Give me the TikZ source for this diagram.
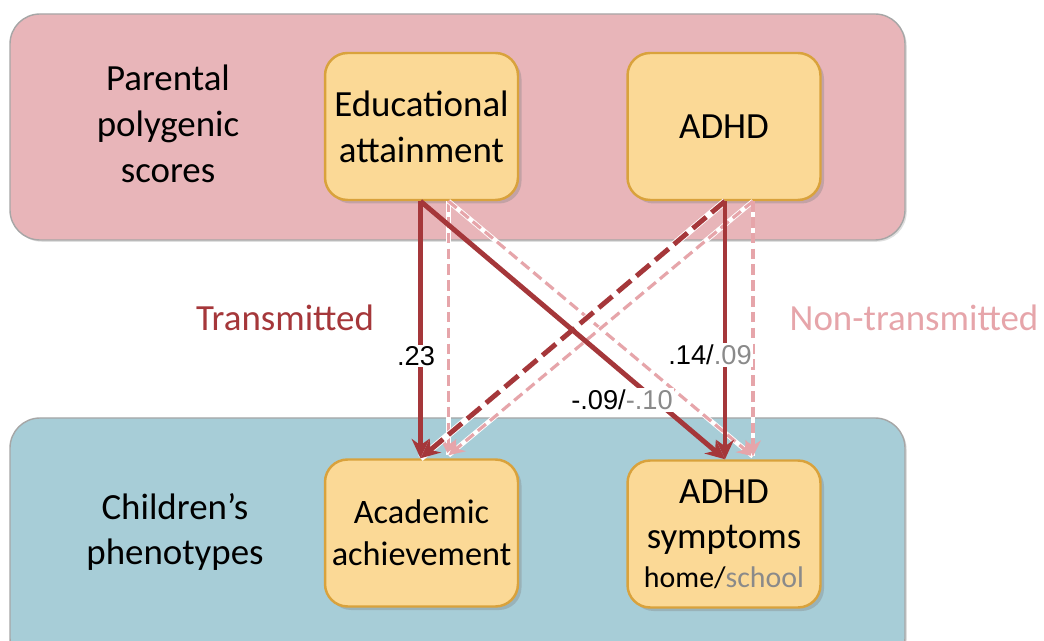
\documentclass[tikz,border=0pt]{standalone}
\usepackage{fontspec}
\setmainfont{Carlito}
\newfontfamily\numfont{Liberation Sans}
\usepackage{xcolor}
\usetikzlibrary{arrows.meta, positioning, shadows}

\definecolor{parentbg}{HTML}{E8B5B9}
\definecolor{childbg}{HTML}{A7CDD7}
\definecolor{boxfill}{HTML}{FBD996}
\definecolor{boxedge}{HTML}{D9A23C}
\definecolor{transred}{HTML}{A5373A}
\definecolor{nontrans}{HTML}{E6A5AA}
\definecolor{numgray}{HTML}{8A8A8A}

\begin{document}
\begin{tikzpicture}[
  x=0.02cm, y=-0.02cm,
  every node/.style={font=\fontsize{21}{26}\selectfont},
  panel/.style={draw=gray!70, line width=0.8pt, rounded corners=0.6cm,
                drop shadow={opacity=0.25, shadow xshift=1pt, shadow yshift=-1pt}},
  var/.style={draw=boxedge, fill=boxfill, line width=1.4pt, rounded corners=0.45cm,
              minimum width=3.86cm, minimum height=2.94cm, align=center,
              inner sep=2pt,
              drop shadow={opacity=0.35, shadow xshift=2pt, shadow yshift=-2pt}},
  grp/.style={align=center},
  trans/.style={-{Stealth[length=11pt, width=10pt]}, transred, line width=2.8pt},
  trans dash/.style={trans, dash pattern=on 10pt off 4pt,
                     preaction={draw=white, line width=3.8pt, solid, arrows=-}},
  nontr/.style={-{Stealth[length=9pt, width=9pt]}, nontrans, line width=1.8pt,
                dash pattern=on 6pt off 3pt,
                preaction={draw=white, line width=2.8pt, solid, arrows=-}},
  coef/.style={font=\numfont\fontsize{15.5}{18}\selectfont, fill=white, inner sep=1pt}
]
\useasboundingbox (0,0) rectangle (1044,641);

%% background panels
\draw[panel, fill=parentbg] (10,14) rectangle (905,240);
\draw[panel, fill=childbg]  (10,418) rectangle (905,668);

%% group labels
\node[grp] (parlab) at (168,124) {Parental\\polygenic\\scores};
\node[grp] (chlab)  at (175,532) {Children's\\phenotypes};

%% parental polygenic scores
\node[var] (ea)   at (421.5,126.5) {Educational\\attainment};
\node[var] (adhd) at (724,126.5)   {ADHD};
%% children's phenotypes
\node[var, font=\fontsize{19.5}{24}\selectfont] (ach) at (421.5,533) {Academic\\achievement};
\node[var] (sym)  at (724,534)     {ADHD\\symptoms\\[-4pt]{\fontsize{17}{20}\selectfont home/\textcolor{numgray}{school}}};

%% arrow end points
\coordinate (eaT)   at ([xshift=-0.02cm]ea.south);
\coordinate (eaN)   at ([xshift=0.54cm]ea.south);
\coordinate (adT)   at ([xshift=0.02cm]adhd.south);
\coordinate (adN)   at ([xshift=0.58cm]adhd.south);
\coordinate (achT)  at ([xshift=-0.02cm]ach.north);
\coordinate (achN)  at ([xshift=0.54cm,yshift=0.06cm]ach.north);
\coordinate (symT)  at ([xshift=0.02cm]sym.north);
\coordinate (symN)  at ([xshift=0.58cm,yshift=0.06cm]sym.north);

%% non-transmitted paths
\foreach \a/\b in {eaN/achN, eaN/symN, adN/achN, adN/symN}
  \draw[nontr] (\a) -- (\b);

%% transmitted paths
\draw[trans dash] (adT) -- (achT);
\draw[trans] (eaT) -- (achT);
\draw[trans] (eaT) -- (symT);
\draw[trans] (adT) -- (symT);

%% coefficients
\node[coef] (c1) at (416,356) {.23};
\node[coef] (c2) at (710,355) {.14/\textcolor{numgray}{.09}};
\node[coef] (c3) at (622,400) {-.09/\textcolor{numgray}{-.10}};

%% path labels
\node[text=transred] (tlab) at (285,318) {Transmitted};
\node[text=nontrans] (nlab) at (914,318) {Non-transmitted};
\end{tikzpicture}
\end{document}
